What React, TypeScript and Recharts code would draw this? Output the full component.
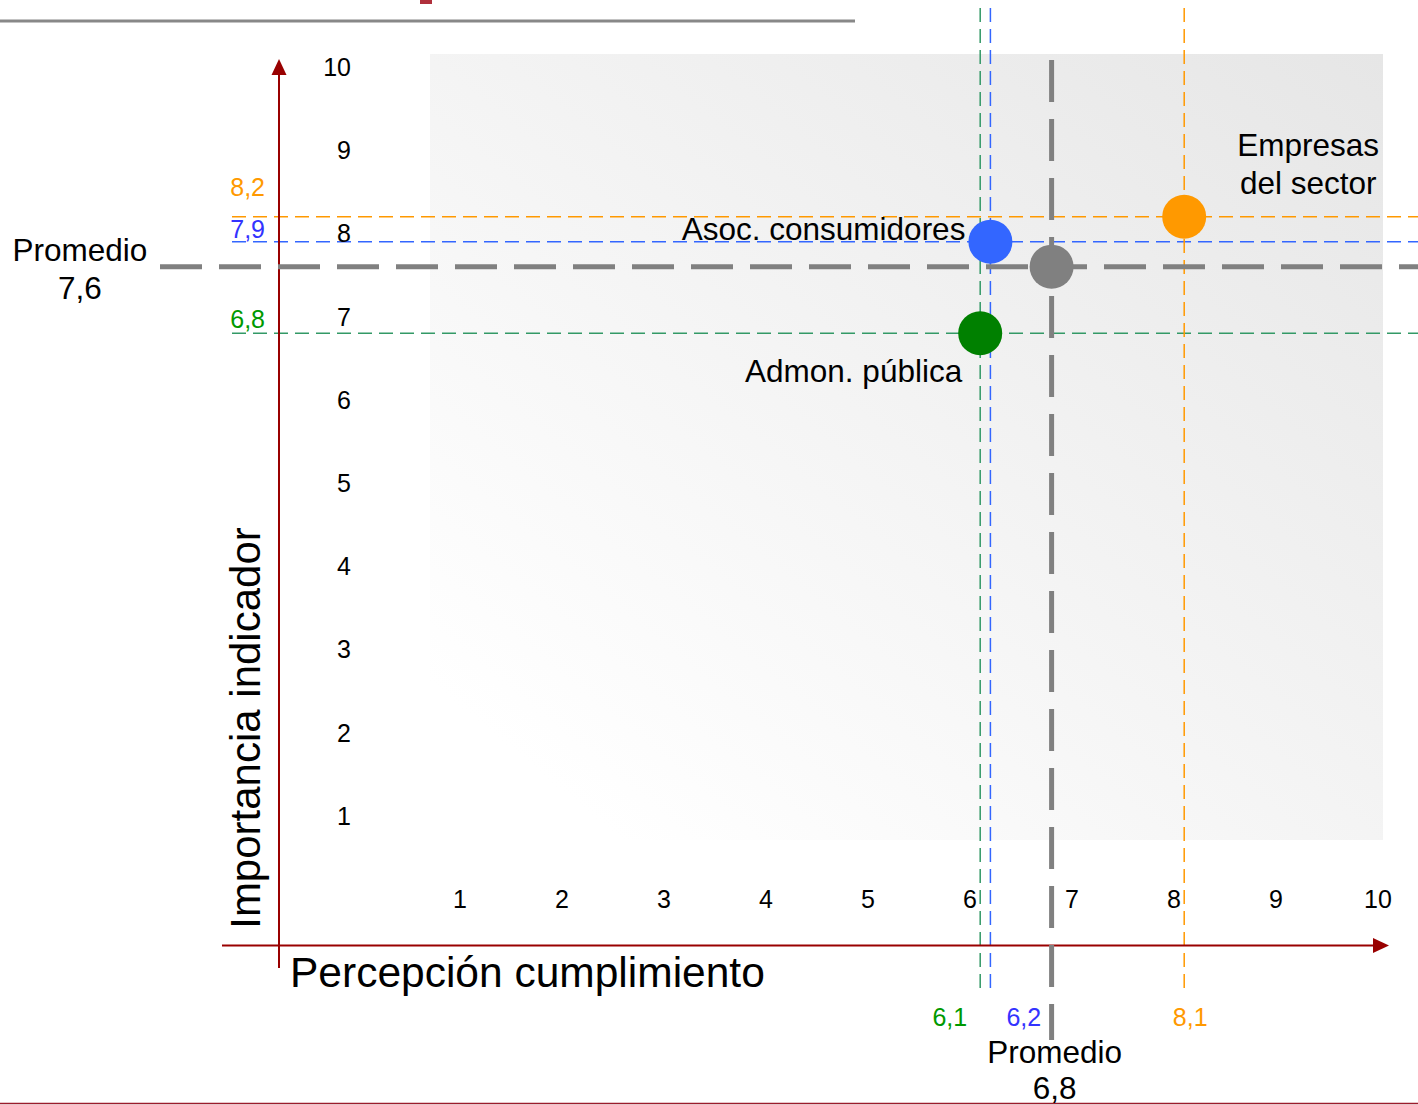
import React from 'react';
import { ScatterChart, Scatter, XAxis, YAxis, ReferenceLine, ReferenceArea } from 'recharts';

// ---------- data ----------
const groupNames = ['Empresas del sector', 'Asoc. consumidores', 'Admon. pública'];
const perceptionValues = [8.1, 6.2, 6.1];
const importanceValues = [8.2, 7.9, 6.8];
const averagePerception = 6.8;
const averageImportance = 7.6;
const xTickValues = [1, 2, 3, 4, 5, 6, 7, 8, 9, 10];
const yTickValues = [1, 2, 3, 4, 5, 6, 7, 8, 9, 10];
const xAxisTitle = 'Percepción cumplimiento';
const yAxisTitle = 'Importancia indicador';
const averageWord = 'Promedio';

// ---------- styles ----------
const pointColors = ['#FF9900', '#3366FF', '#008000'];
const lineColors = ['#FF9900', '#3366FF', '#339966'];
const valueColors = ['#FF9900', '#3333FF', '#009900'];
const averageColor = '#808080';
const axisColor = '#990000';
const FONT = '"Liberation Sans", Arial, Helvetica, sans-serif';

const labelLines = [['Empresas', 'del sector'], ['Asoc. consumidores'], ['Admon. pública']];
const labelAnchor = ['middle', 'end', 'end'];
const labelDx = [124, -25, -18];
const labelDy = [[-72, -34], [-13], [38]];
const leftValueDy = [-30, -13, -14];
const bottomAnchor = ['middle', 'start', 'end'];
const bottomDx = [6, 16, -13];

// ---------- layout ----------
const W = 1418;
const H = 1105;
const X_ORIGIN_PX = 358;
const X_UNIT_PX = 102;
const Y_ORIGIN_PX = 899;
const Y_UNIT_PX = 83.2;
const dx = (px: number) => (px - X_ORIGIN_PX) / X_UNIT_PX;
const dy = (py: number) => (Y_ORIGIN_PX - py) / Y_UNIT_PX;
const X_DOMAIN: [number, number] = [dx(0), dx(W)];
const Y_DOMAIN: [number, number] = [dy(H), dy(0)];

const fmt = (v: number) => v.toFixed(1).replace('.', ',');

const xTickData = xTickValues.map((v) => ({ x: v, y: 0, label: String(v) }));
const yTickData = yTickValues.map((v) => ({ x: 0, y: v, label: String(v) }));
const groupData = groupNames.map((name, i) => [{ x: perceptionValues[i], y: importanceValues[i], name }]);
const averageData = [{ x: averagePerception, y: averageImportance }];

const XTick = (props: any) => (
  <text x={props.cx} y={props.cy} textAnchor="middle" dominantBaseline="central" fontSize={25} fontFamily={FONT} fill="#000">
    {props.payload.label}
  </text>
);
const YTick = (props: any) => (
  <text x={props.cx - 7} y={props.cy} textAnchor="end" dominantBaseline="central" fontSize={25} fontFamily={FONT} fill="#000">
    {props.payload.label}
  </text>
);

const makeGroupShape = (i: number) => (props: any) => {
  const { cx, cy } = props;
  return (
    <g>
      <circle cx={cx} cy={cy} r={22} fill={pointColors[i]} />
      {labelLines[i].map((t, k) => (
        <text key={k} x={cx + labelDx[i]} y={cy + labelDy[i][k]} textAnchor={labelAnchor[i] as any}
          dominantBaseline="central" fontSize={31.5} fontFamily={FONT} fill="#000">{t}</text>
      ))}
      <text x={265} y={cy + leftValueDy[i]} textAnchor="end" dominantBaseline="central" fontSize={25} fontFamily={FONT} fill={valueColors[i]}>
        {fmt(importanceValues[i])}
      </text>
      <text x={cx + bottomDx[i]} y={1017} textAnchor={bottomAnchor[i] as any} dominantBaseline="central" fontSize={25} fontFamily={FONT} fill={valueColors[i]}>
        {fmt(perceptionValues[i])}
      </text>
    </g>
  );
};

const AverageShape = (props: any) => {
  const { cx, cy } = props;
  return (
    <g>
      <circle cx={cx} cy={cy} r={22} fill={averageColor} />
      <text x={80} y={cy - 17} textAnchor="middle" dominantBaseline="central" fontSize={31.5} fontFamily={FONT} fill="#000">{averageWord}</text>
      <text x={80} y={cy + 21} textAnchor="middle" dominantBaseline="central" fontSize={31.5} fontFamily={FONT} fill="#000">{fmt(averageImportance)}</text>
      <text x={cx + 3} y={1052} textAnchor="middle" dominantBaseline="central" fontSize={31.5} fontFamily={FONT} fill="#000">{averageWord}</text>
      <text x={cx + 3} y={1088} textAnchor="middle" dominantBaseline="central" fontSize={31.5} fontFamily={FONT} fill="#000">{fmt(averagePerception)}</text>
    </g>
  );
};

export default function App() {
  return (
    <div style={{ position: 'absolute', left: 0, top: 0, width: W, height: H, background: '#fff' }}>
      <ScatterChart width={W} height={H} margin={{ top: 0, right: 0, bottom: 0, left: 0 }}>
        <defs>
          <linearGradient id="bgGrad" x1="0" y1="1" x2="1" y2="0">
            <stop offset="0.1" stopColor="#ffffff" />
            <stop offset="1" stopColor="#e6e6e6" />
          </linearGradient>
        </defs>
        <XAxis type="number" dataKey="x" domain={X_DOMAIN} allowDataOverflow hide height={0} />
        <YAxis type="number" dataKey="y" domain={Y_DOMAIN} allowDataOverflow hide width={0} />

        <ReferenceArea x1={dx(430)} x2={dx(1383)} y1={dy(840)} y2={dy(54)} fill="url(#bgGrad)" fillOpacity={1} stroke="none" />

        {/* decorations */}
        <ReferenceLine segment={[{ x: dx(0), y: dy(21) }, { x: dx(855), y: dy(21) }]} stroke="#888888" strokeWidth={3} />
        <ReferenceLine segment={[{ x: dx(0), y: dy(1103.5) }, { x: dx(W), y: dy(1103.5) }]} stroke="#9b1c2c" strokeWidth={1.5} />
        <ReferenceArea x1={dx(420)} x2={dx(432)} y1={dy(4)} y2={dy(0)} fill="#b0303c" fillOpacity={1} stroke="none" />

        {/* group guide lines */}
        {groupNames.map((n, i) => (
          <ReferenceLine key={'h' + n} segment={[{ x: dx(232), y: importanceValues[i] }, { x: dx(W), y: importanceValues[i] }]}
            stroke={lineColors[i]} strokeWidth={1.5} strokeDasharray="14 7" />
        ))}
        {groupNames.map((n, i) => (
          <ReferenceLine key={'v' + n} segment={[{ x: perceptionValues[i], y: dy(8) }, { x: perceptionValues[i], y: dy(992) }]}
            stroke={lineColors[i]} strokeWidth={1.5} strokeDasharray="14 7" />
        ))}

        {/* red axes */}
        <ReferenceLine segment={[{ x: dx(279), y: dy(968) }, { x: dx(279), y: dy(72) }]} stroke={axisColor} strokeWidth={2} />
        <ReferenceLine segment={[{ x: dx(222), y: dy(945.5) }, { x: dx(1376), y: dy(945.5) }]} stroke={axisColor} strokeWidth={2} />

        {/* average lines */}
        <ReferenceLine segment={[{ x: dx(160), y: averageImportance }, { x: dx(W), y: averageImportance }]}
          stroke={averageColor} strokeWidth={5} strokeDasharray="42 17" />
        <ReferenceLine segment={[{ x: averagePerception, y: dy(60) }, { x: averagePerception, y: dy(1040) }]}
          stroke={averageColor} strokeWidth={5} strokeDasharray="42 17" />

        <polygon points="279,59 271.5,75 286.5,75" fill={axisColor} />
        <polygon points="1389,945.5 1373,938 1373,953" fill={axisColor} />

        <Scatter name="xTicks" data={xTickData} shape={XTick} isAnimationActive={false} />
        <Scatter name="yTicks" data={yTickData} shape={YTick} isAnimationActive={false} />

        <Scatter name={averageWord} data={averageData} shape={AverageShape} isAnimationActive={false} />
        {groupNames.map((n, i) => (
          <Scatter key={n} name={n} data={groupData[i]} shape={makeGroupShape(i)} isAnimationActive={false} />
        ))}

        <text x={290} y={972.5} textAnchor="start" dominantBaseline="central" fontSize={42.5} fontFamily={FONT} fill="#000">{xAxisTitle}</text>
        <text x={245} y={728} textAnchor="middle" dominantBaseline="central" fontSize={42} fontFamily={FONT} fill="#000"
          transform="rotate(-90 245 728)">{yAxisTitle}</text>
      </ScatterChart>
    </div>
  );
}
